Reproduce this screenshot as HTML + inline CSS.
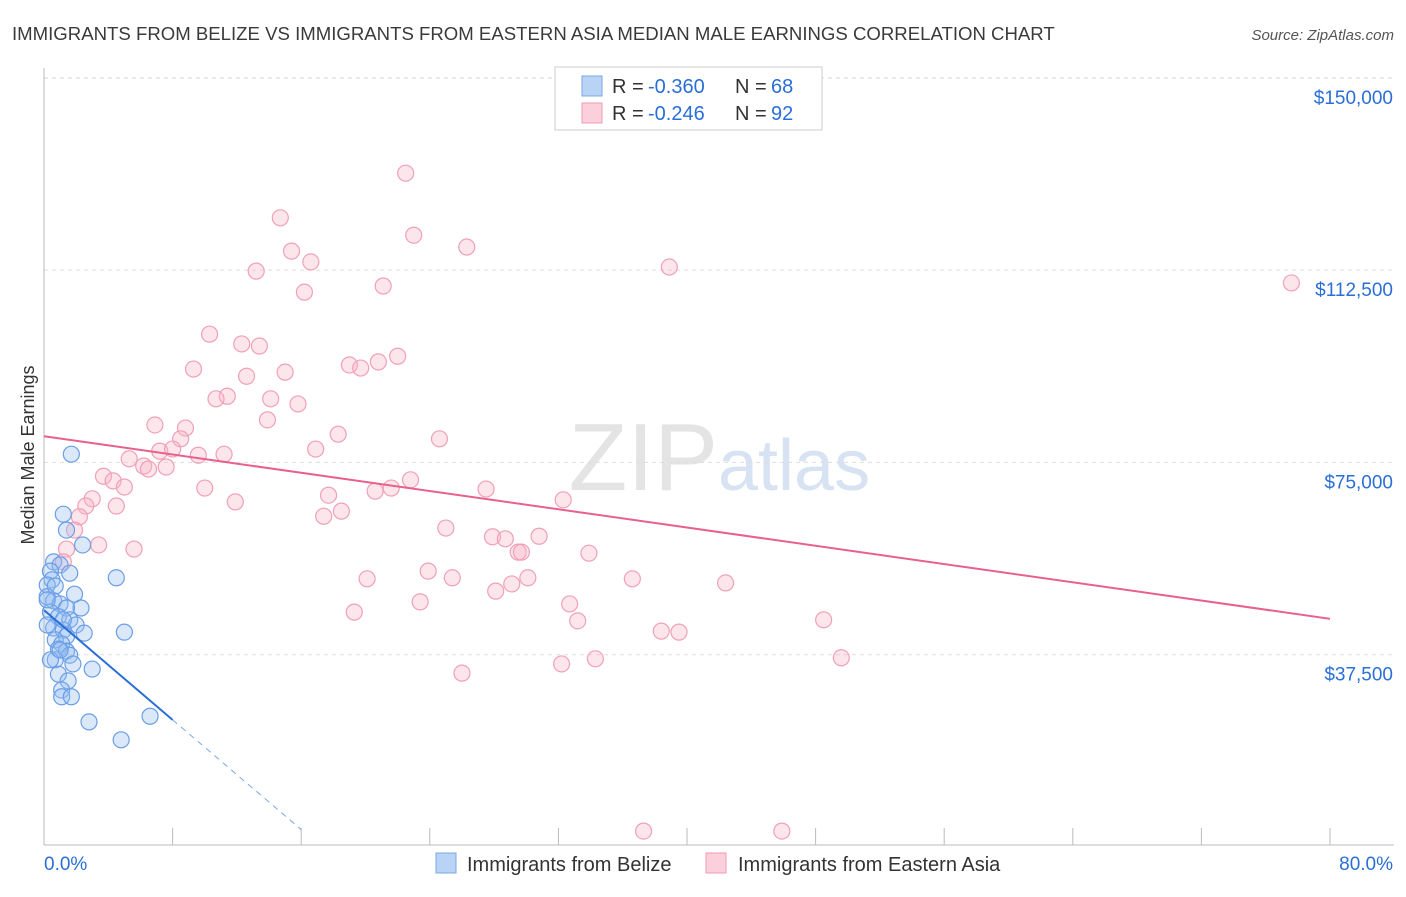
<!DOCTYPE html>
<html><head><meta charset="utf-8"><style>
body{margin:0;background:#fff;font-family:"Liberation Sans",sans-serif;}
svg text{font-family:"Liberation Sans",sans-serif;}
</style></head><body>
<svg id="chart" width="1406" height="892" xmlns="http://www.w3.org/2000/svg">
<text x="12" y="40" font-size="18.6" fill="#3a3a3a">IMMIGRANTS FROM BELIZE VS IMMIGRANTS FROM EASTERN ASIA MEDIAN MALE EARNINGS CORRELATION CHART</text>
<text x="1394" y="40" font-size="15" fill="#555" font-style="italic" text-anchor="end">Source: ZipAtlas.com</text>
<text x="718" y="490" font-size="96" fill="#e4e4e4" text-anchor="end" font-family="Liberation Serif">ZIP</text>
<text x="718" y="490" font-size="72" fill="#d7e3f2">atlas</text>
<text x="34" y="455" font-size="18" fill="#333" text-anchor="middle" transform="rotate(-90 34 455)">Median Male Earnings</text>
<g id="grid"></g><g id="axes"></g><g id="marks"></g>
<g>
<rect x="555" y="67" width="267" height="63" fill="#fff" stroke="#ccc"/>
<rect x="582" y="76" width="20" height="20" fill="#b8d3f5" stroke="#7aa8e6"/>
<rect x="582" y="103" width="20" height="20" fill="#fbd0dc" stroke="#f09ab2"/>
<text x="612" y="93" font-size="20" fill="#333">R = </text>
<text x="648" y="93" font-size="20" fill="#2a6fd6">-0.360</text>
<text x="735" y="93" font-size="20" fill="#333">N = </text>
<text x="771" y="93" font-size="20" fill="#2a6fd6">68</text>
<text x="612" y="120" font-size="20" fill="#333">R = </text>
<text x="648" y="120" font-size="20" fill="#2a6fd6">-0.246</text>
<text x="735" y="120" font-size="20" fill="#333">N = </text>
<text x="771" y="120" font-size="20" fill="#2a6fd6">92</text>
</g>
<g>
<rect x="436" y="853" width="20" height="20" fill="#b8d3f5" stroke="#7aa8e6"/>
<text x="467" y="871" font-size="20" fill="#333">Immigrants from Belize</text>
<rect x="706" y="853" width="20" height="20" fill="#fbd0dc" stroke="#f09ab2"/>
<text x="738" y="871" font-size="20" fill="#333">Immigrants from Eastern Asia</text>
</g>
</svg>
<script>
const yTicks=[37500,75000,112500,150000];
const yTickLabels=["$37,500","$75,000","$112,500","$150,000"];
const xTicks=[0,8,16,24,32,40,48,56,64,72,80];
const xEndLabels=["0.0%","80.0%"];
const belizeX=[1.7,1.2,1.4,2.4,0.6,1.0,1.6,0.4,4.5,0.5,0.2,0.7,1.9,0.2,0.6,1.0,2.3,1.4,0.4,0.9,1.6,2.0,0.6,1.2,2.5,5.0,1.4,0.7,1.1,0.9,1.4,1.6,0.7,1.8,3.0,0.9,1.5,1.1,1.1,1.7,2.8,6.6,4.8,0.2,0.4,0.2,1.0,1.2];
const belizeY=[76.6,64.9,61.8,58.9,55.6,55.0,53.4,53.8,52.5,52.1,51.1,50.9,49.3,48.8,48.0,47.4,46.6,46.6,45.8,44.9,44.3,43.3,42.7,42.3,41.7,41.9,41.1,40.4,39.6,38.6,38.2,37.4,36.5,35.7,34.7,33.7,32.4,30.6,29.3,29.3,24.4,25.5,20.9,48.2,36.5,43.3,38.4,44.3];
const asiaX=[22.5,14.7,23.0,26.3,15.4,16.6,13.2,38.9,21.1,16.2,77.6,10.3,12.3,13.4,22.0,20.8,19.0,19.7,9.3,15.0,12.6,11.4,10.7,14.1,15.8,13.9,6.9,8.8,18.3,24.6,8.5,7.2,8.0,16.9,9.6,11.2,5.3,6.2,6.5,7.6,3.7,4.3,5.0,22.8,10.0,21.6,20.6,27.5,17.7,3.0,11.9,32.3,2.6,4.5,18.5,17.4,2.2,25.0,1.9,27.9,28.7,30.8,3.4,5.6,29.5,29.7,33.9,1.4,1.2,23.9,20.1,25.4,30.1,36.6,29.1,42.4,28.1,23.4,32.7,19.3,33.2,48.5,38.4,39.5,34.3,32.2,49.6,26.0,37.3,45.9];
const asiaY=[131.4,122.7,119.3,117.0,116.2,114.1,112.3,113.1,109.4,108.2,110.0,100.0,98.1,97.7,95.7,94.6,94.0,93.4,93.2,92.6,91.8,87.9,87.4,87.4,86.4,83.3,82.3,81.7,80.5,79.6,79.6,77.2,77.6,77.6,76.4,76.6,75.7,74.3,73.7,74.1,72.3,71.4,70.2,71.6,70.0,70.0,69.4,69.8,68.6,67.9,67.3,67.7,66.5,66.5,65.5,64.5,64.4,62.2,61.8,60.5,60.1,60.6,58.9,58.1,57.5,57.5,57.3,58.1,55.6,53.8,52.3,52.5,52.5,52.3,51.3,51.5,49.9,47.8,47.4,45.8,44.1,44.3,42.1,41.9,36.7,35.7,36.9,33.9,3.1,3.1];
const belizeTrend=[46.2,24.8,3.4]; // values at x=0,8,16
const asiaTrend=[80.1,44.5]; // values at x=0,80
const NS="http://www.w3.org/2000/svg";
const sx=v=>44+v/80*1286;
const sy=v=>847-v*1000/37500*192.3;
function mk(tag,attrs,parent){const e=document.createElementNS(NS,tag);for(const k in attrs)e.setAttribute(k,attrs[k]);document.getElementById(parent).appendChild(e);return e;}
yTicks.forEach((t,i)=>{
 const g=mk('line',{x1:44,x2:1394,y1:sy(t/1000),y2:sy(t/1000),stroke:'#ddd','stroke-dasharray':'4,4'},'grid');
 
 
 const tx=mk('text',{x:1393,y:sy(t/1000)+26,'font-size':19,fill:'#2a6fd6','text-anchor':'end'},'axes');
 tx.textContent=yTickLabels[i];
 
 
});
const tg=mk('line',{x1:44,x2:1394,y1:78,y2:78,stroke:'#ddd','stroke-dasharray':'4,4'},'grid');


const ya=mk('line',{x1:44,x2:44,y1:68,y2:845,stroke:'#bbb'},'axes');


const xa=mk('line',{x1:44,x2:1394,y1:845,y2:845,stroke:'#bbb'},'axes');


xTicks.forEach(t=>{
 const l=mk('line',{x1:sx(t),x2:sx(t),y1:828,y2:845,stroke:'#bbb'},'axes');
 
 
});
const xl0=mk('text',{x:44,y:870,'font-size':19,fill:'#2a6fd6'},'axes');
xl0.textContent=xEndLabels[0];


const xl1=mk('text',{x:1393,y:870,'font-size':19,fill:'#2a6fd6','text-anchor':'end'},'axes');
xl1.textContent=xEndLabels[1];


asiaX.forEach((x,i)=>{
 const c=mk('circle',{cx:sx(x),cy:sy(asiaY[i]),r:8,fill:'rgba(248,180,200,0.35)',stroke:'#f0a0b8','stroke-width':1.2},'marks');
 
 
});
belizeX.forEach((x,i)=>{
 const c=mk('circle',{cx:sx(x),cy:sy(belizeY[i]),r:8,fill:'rgba(150,190,240,0.35)',stroke:'#6a9ee6','stroke-width':1.2},'marks');
 
 
});
const at=mk('line',{x1:sx(0),y1:sy(asiaTrend[0]),x2:sx(80),y2:sy(asiaTrend[1]),stroke:'#e8608e','stroke-width':2},'marks');


const bt=mk('line',{x1:sx(0),y1:sy(belizeTrend[0]),x2:sx(8),y2:sy(belizeTrend[1]),stroke:'#2a6fd6','stroke-width':2},'marks');


const bd=mk('line',{x1:sx(8),y1:sy(belizeTrend[1]),x2:sx(16),y2:sy(belizeTrend[2]),stroke:'#7aa8e6','stroke-width':1,'stroke-dasharray':'6,5'},'marks');


</script>
</body></html>
